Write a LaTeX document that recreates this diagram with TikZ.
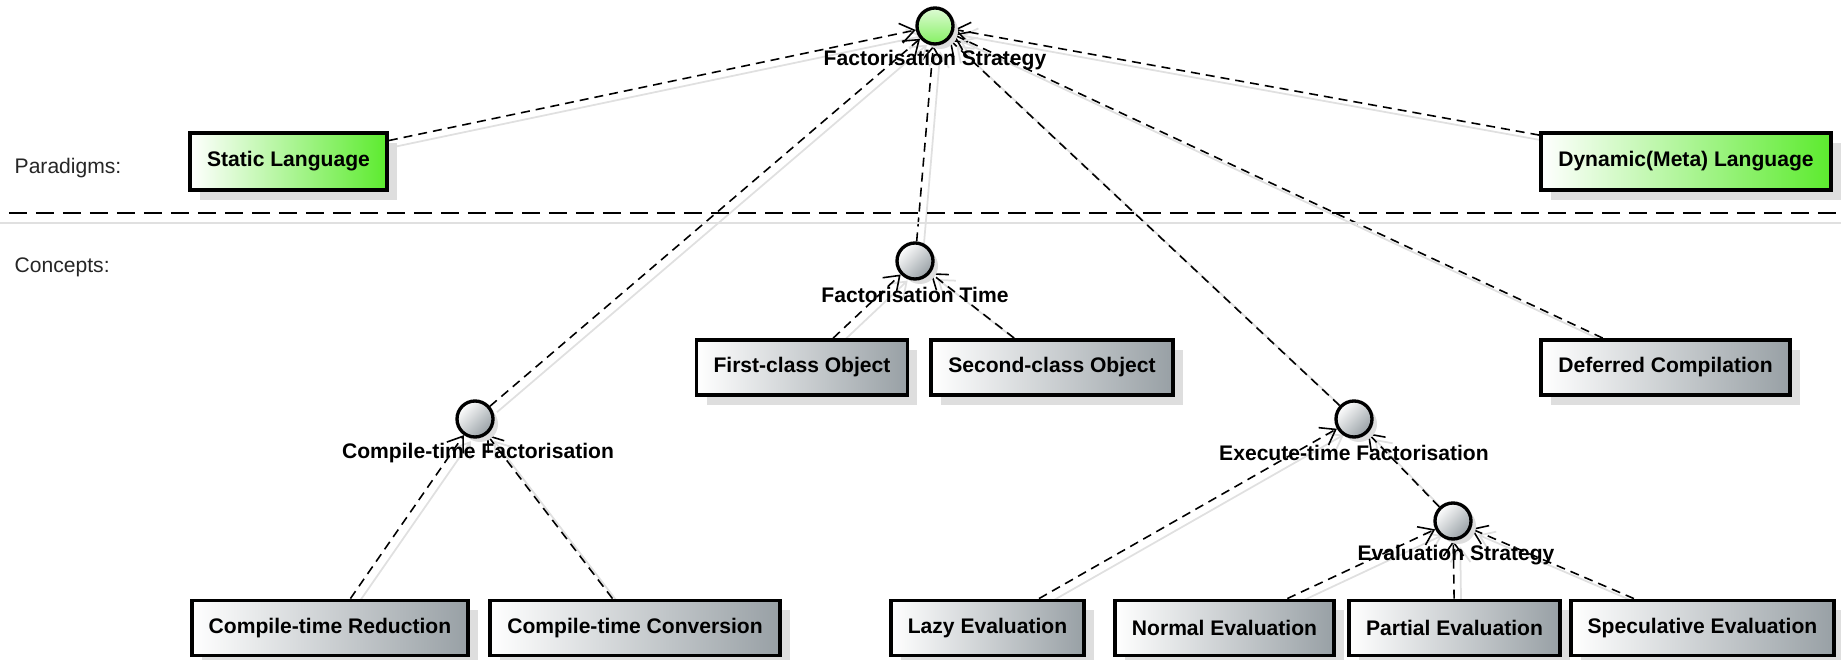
\documentclass[tikz,border=0pt]{standalone}
\usepackage{fontspec}
\setmainfont{Liberation Sans}
\usetikzlibrary{arrows.meta,shadows,backgrounds}
\definecolor{FSGreen}{HTML}{5CEB2E}
\definecolor{FSGrey}{HTML}{98A0A5}
\definecolor{FSShade}{HTML}{DEDEDE}

\begin{document}
\begin{tikzpicture}[
      >={Straight Barb[length=2.8mm,width=4mm]},
      box/.style={draw=black,line width=2.2pt,inner xsep=0.34cm,minimum height=1.1cm,
        font=\fontsize{12}{14}\selectfont\bfseries,left color=white,right color=FSGrey,
        drop shadow={shadow xshift=0.2cm,shadow yshift=-0.2cm,fill=FSShade,opacity=1}},
      paradigm/.style={box,minimum height=1.14cm,right color=FSGreen},
      hub/.style={circle,draw=black,line width=1.9pt,minimum size=0.72cm,inner sep=0pt,
        top color=white,bottom color=FSGrey,shading angle=45,
        drop shadow={shadow xshift=0.1cm,shadow yshift=-0.1cm,fill=FSShade,opacity=1}},
      root/.style={hub,top color=FSGreen!20,bottom color=FSGreen!75},
      hublbl/.style={font=\fontsize{12}{14}\selectfont\bfseries,inner sep=1pt},
      side/.style={anchor=west,font=\fontsize{12}{14}\selectfont,text=black!85},
      link/.style={->,line width=0.9pt,dash pattern=on 0.18cm off 0.12cm,
        preaction={draw=black!12,solid,line width=1pt,
          transform canvas={shift={(0.14,-0.12)}}}}
    ]
    \path[use as bounding box] (0,0) rectangle (36.82,-13.2);
    \node[side] (paralbl) at (0.17,-3.36) {Paradigms:};
    \node[side] (conclbl) at (0.17,-5.34) {Concepts:};
    \draw[line width=1.1pt,dash pattern=on 0.36cm off 0.18cm] (0.18,-4.26) -- (36.72,-4.26);
    \draw[black!12,line width=1pt] (0,-4.46) -- (36.82,-4.46);

    \node[root] (fs) at (18.70,-0.52) {};
    \node[hublbl] (fslbl) at (18.70,-1.20) {Factorisation Strategy};
    \node[paradigm] (static) at (5.77,-3.23) {Static Language};
    \node[paradigm] (dynamic) at (33.72,-3.23) {Dynamic(Meta) Language};

    \node[hub] (ft) at (18.30,-5.22) {};
    \node[hublbl] (ftlbl) at (18.30,-5.90) {Factorisation Time};
    \node[box] (first) at (16.04,-7.35) {First-class Object};
    \node[box] (second) at (21.04,-7.35) {Second-class Object};
    \node[box] (deferred) at (33.31,-7.35) {Deferred Compilation};

    \node[hub] (ctf) at (9.50,-8.38) {};
    \node[hublbl] (ctflbl) at (9.56,-9.06) {Compile-time Factorisation};
    \node[hub] (etf) at (27.08,-8.38) {};
    \node[hublbl] (etflbl) at (27.08,-9.06) {Execute-time Factorisation};
    \node[hub] (evs) at (29.06,-10.42) {};
    \node[hublbl] (evslbl) at (29.12,-11.10) {Evaluation Strategy};

    \node[box] (ctred) at (6.60,-12.56) {Compile-time Reduction};
    \node[box] (ctconv) at (12.70,-12.56) {Compile-time Conversion};
    \node[box] (lazy) at (19.75,-12.56) {Lazy Evaluation};
    \node[box] (normal) at (24.49,-12.56) {Normal Evaluation};
    \node[box] (partial) at (29.09,-12.56) {Partial Evaluation};
    \node[box] (spec) at (34.05,-12.56) {Speculative Evaluation};

    \begin{scope}[on background layer]
      \draw[link] (static) -- (fs);
      \draw[link] (dynamic) -- (fs);
      \draw[link] (ft) -- (fs);
      \draw[link] (ctf) -- (fs);
      \draw[link] (etf) -- (fs);
      \draw[link] (deferred) -- (fs);
      \draw[link] (first) -- (ft);
      \draw[link] (second) -- (ft);
      \draw[link] (ctred) -- (ctf);
      \draw[link] (ctconv) -- (ctf);
      \draw[link] (lazy) -- (etf);
      \draw[link] (evs) -- (etf);
      \draw[link] (normal) -- (evs);
      \draw[link] (partial) -- (evs);
      \draw[link] (spec) -- (evs);
    \end{scope}
  \end{tikzpicture}
\end{document}
